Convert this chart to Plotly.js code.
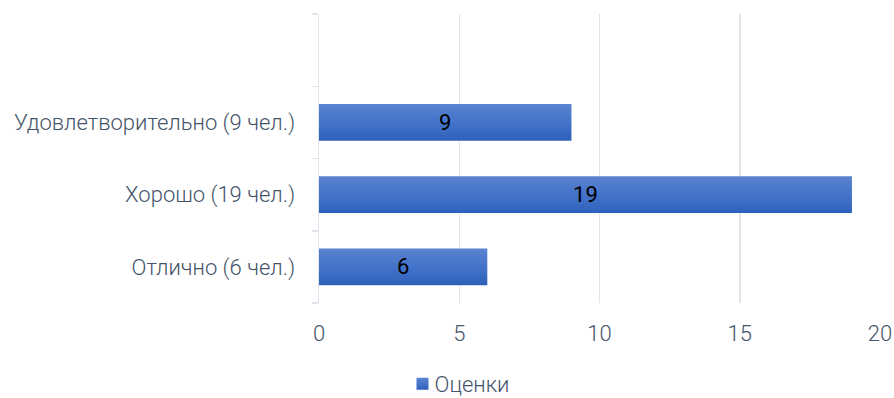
<!DOCTYPE html>
<html><head><meta charset="utf-8">
<script src="https://cdn.plot.ly/plotly-3.0.1.min.js"></script>
<style>html,body{margin:0;padding:0;background:#fff}#chart{width:894px;height:398px}</style>
</head><body><div id="chart"></div>
<script>
const categories = ["Отлично (6 чел.)", "Хорошо (19 чел.)", "Удовлетворительно (9 чел.)", " "];
const values = [6, 19, 9, null];
const seriesName = "Оценки";
const xTicks = [0, 5, 10, 15, 20];

const font = "Roboto, 'Open Sans', sans-serif";
const textColor = "#44546A";

const trace = {
  type: "bar", orientation: "h",
  x: values, y: categories, name: seriesName,
  marker: {color: "#4472C4"},
  text: values.map(v => v == null ? "" : String(v)),
  textposition: "inside", insidetextanchor: "middle",
  textfont: {family: font, size: 22, color: "#000", weight: 400},
  hoverinfo: "none", cliponaxis: false
};
const layout = {
  width: 894, height: 398,
  margin: {l: 319, r: 14, t: 14, b: 95, autoexpand: false},
  paper_bgcolor: "#fff", plot_bgcolor: "#fff",
  bargap: 0.49,
  showlegend: true,
  legend: {orientation: "h", xref: "container", x: 462.5/894, xanchor: "center",
           yref: "container", y: 14/398, yanchor: "middle",
           font: {family: font, size: 22, color: textColor, weight: 300}},
  xaxis: {range: [0, 20], tickvals: xTicks, showgrid: true, gridcolor: "#E1E4EA", gridwidth: 1.5,
          zeroline: false, showline: false, ticks: "", ticklabelstandoff: 15,
          tickfont: {family: font, size: 22, color: textColor, weight: 300}, fixedrange: true, automargin: false},
  yaxis: {type: "category", categoryorder: "array", categoryarray: categories,
          showgrid: false, zeroline: false, showline: true, linecolor: "#E1E4EA", linewidth: 1.5,
          ticks: "outside", tickson: "boundaries", ticklen: 6, tickcolor: "#E1E4EA", tickwidth: 1.5,
          ticklabelstandoff: 18, automargin: false,
          tickfont: {family: font, size: 22, color: textColor, weight: 300}, fixedrange: true}
};
Plotly.newPlot("chart", [trace], layout, {displayModeBar: false, staticPlot: true}).then(gd => {
  const svg = gd.querySelector("svg.main-svg");
  const ns = "http://www.w3.org/2000/svg";
  let defs = svg.querySelector("defs");
  if (!defs) { defs = document.createElementNS(ns, "defs"); svg.insertBefore(defs, svg.firstChild); }
  const g = document.createElementNS(ns, "linearGradient");
  g.setAttribute("id", "barGrad"); g.setAttribute("x1", "0"); g.setAttribute("y1", "0");
  g.setAttribute("x2", "0"); g.setAttribute("y2", "1");
  [["0", "#5B83CF"], ["0.5", "#4473CA"], ["1", "#2E61BA"]].forEach(([o, c]) => {
    const s = document.createElementNS(ns, "stop");
    s.setAttribute("offset", o); s.setAttribute("stop-color", c); g.appendChild(s);
  });
  defs.appendChild(g);
  gd.querySelectorAll(".bars .point path").forEach(p => { p.style.fill = "url(#barGrad)"; });
  gd.querySelectorAll(".legend .legendpoints path").forEach(p => { p.style.fill = "url(#barGrad)"; });
  gd.querySelectorAll(".legend .legendtext").forEach(t => { t.setAttribute("x", 32); });
});
</script></body></html>
